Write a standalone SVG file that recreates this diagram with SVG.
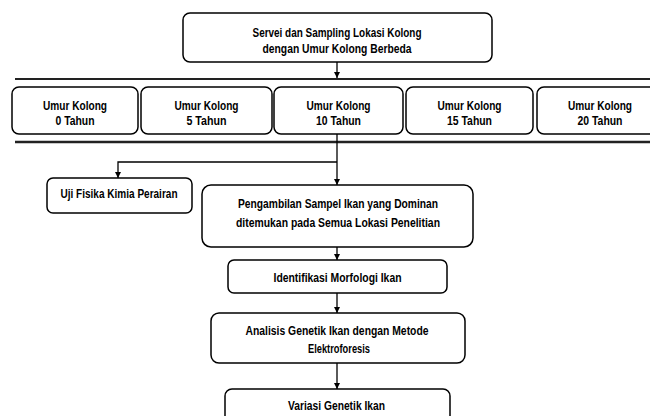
<svg xmlns="http://www.w3.org/2000/svg" width="650" height="416" viewBox="0 0 650 416">
<style>
.box{fill:#fff;stroke:#000;stroke-width:1.5}
.t{font-family:"Liberation Sans",Arial,sans-serif;font-size:12px;font-weight:bold;fill:#000;text-anchor:middle}
.ln{stroke:#000;stroke-width:1.3;fill:none}
.rule{stroke:#222;fill:none}
</style>
<defs>
<marker id="ah" viewBox="0 0 10 10" refX="10" refY="5" markerWidth="6" markerHeight="6" markerUnits="userSpaceOnUse" orient="auto">
<path d="M0,0 L10,5 L0,10 z" fill="#000"/>
</marker>
</defs>
<rect width="650" height="416" fill="#fff"/>
<g id="rules">
<line class="rule" x1="15" y1="79" x2="650" y2="79" stroke-width="1.8"/>
<line class="rule" x1="15" y1="142" x2="650" y2="142" stroke-width="2.5"/>
</g>
<g id="connectors">
<line class="ln" x1="337" y1="62" x2="337" y2="78" marker-end="url(#ah)"/>
<line class="ln" x1="337" y1="134" x2="337" y2="185" marker-end="url(#ah)"/>
<polyline class="ln" points="337,162 118,162 118,178" marker-end="url(#ah)"/>
<line class="ln" x1="337" y1="247" x2="337" y2="260" marker-end="url(#ah)"/>
<line class="ln" x1="337" y1="293" x2="337" y2="313" marker-end="url(#ah)"/>
<line class="ln" x1="337" y1="363" x2="337" y2="389" marker-end="url(#ah)"/>
</g>
<g id="n-survey">
<rect class="box" x="183" y="13" width="309" height="49" rx="7"/>
<text class="t" x="337" y="36.5" textLength="169" lengthAdjust="spacingAndGlyphs">Servei dan Sampling Lokasi Kolong</text>
<text class="t" x="337" y="52.5" textLength="149" lengthAdjust="spacingAndGlyphs">dengan Umur Kolong Berbeda</text>
</g>
<g id="n-0">
<rect class="box" x="12" y="87" width="126" height="47" rx="7"/>
<text class="t" x="75" y="109.5" textLength="64" lengthAdjust="spacingAndGlyphs">Umur Kolong</text>
<text class="t" x="75" y="124.5" textLength="39" lengthAdjust="spacingAndGlyphs">0 Tahun</text>
</g>
<g id="n-5">
<rect class="box" x="141" y="87" width="131" height="47" rx="7"/>
<text class="t" x="206.5" y="109.5" textLength="64" lengthAdjust="spacingAndGlyphs">Umur Kolong</text>
<text class="t" x="206.5" y="124.5" textLength="40" lengthAdjust="spacingAndGlyphs">5 Tahun</text>
</g>
<g id="n-10">
<rect class="box" x="274" y="87" width="129" height="47" rx="7"/>
<text class="t" x="338.5" y="109.5" textLength="64" lengthAdjust="spacingAndGlyphs">Umur Kolong</text>
<text class="t" x="338.5" y="124.5" textLength="45" lengthAdjust="spacingAndGlyphs">10 Tahun</text>
</g>
<g id="n-15">
<rect class="box" x="406" y="87" width="127" height="47" rx="7"/>
<text class="t" x="469.5" y="109.5" textLength="64" lengthAdjust="spacingAndGlyphs">Umur Kolong</text>
<text class="t" x="469.5" y="124.5" textLength="45" lengthAdjust="spacingAndGlyphs">15 Tahun</text>
</g>
<g id="n-20">
<rect class="box" x="537" y="87" width="126" height="47" rx="7"/>
<text class="t" x="600" y="109.5" textLength="64" lengthAdjust="spacingAndGlyphs">Umur Kolong</text>
<text class="t" x="600" y="124.5" textLength="45" lengthAdjust="spacingAndGlyphs">20 Tahun</text>
</g>
<g id="n-uji">
<rect class="box" x="47" y="178" width="145" height="35" rx="6"/>
<text class="t" x="119" y="197.5" textLength="117" lengthAdjust="spacingAndGlyphs">Uji Fisika Kimia Perairan</text>
</g>
<g id="n-sampel">
<rect class="box" x="202" y="185" width="271" height="62" rx="9"/>
<text class="t" x="338" y="207.5" textLength="200" lengthAdjust="spacingAndGlyphs">Pengambilan Sampel Ikan yang Dominan</text>
<text class="t" x="338" y="226.5" textLength="204" lengthAdjust="spacingAndGlyphs">ditemukan pada Semua Lokasi Penelitian</text>
</g>
<g id="n-morf">
<rect class="box" x="228" y="260" width="219" height="33" rx="6"/>
<text class="t" x="337.5" y="281.5" textLength="128" lengthAdjust="spacingAndGlyphs">Identifikasi Morfologi Ikan</text>
</g>
<g id="n-genetik">
<rect class="box" x="211" y="313" width="254" height="50" rx="8"/>
<text class="t" x="337" y="334.5" textLength="183" lengthAdjust="spacingAndGlyphs">Analisis Genetik Ikan dengan Metode</text>
<text class="t" x="339" y="352.5" textLength="62" lengthAdjust="spacingAndGlyphs">Elektroforesis</text>
</g>
<g id="n-variasi">
<rect class="box" x="225" y="389" width="225" height="40" rx="7"/>
<text class="t" x="336.5" y="409.5" textLength="97" lengthAdjust="spacingAndGlyphs">Variasi Genetik Ikan</text>
</g>
</svg>
